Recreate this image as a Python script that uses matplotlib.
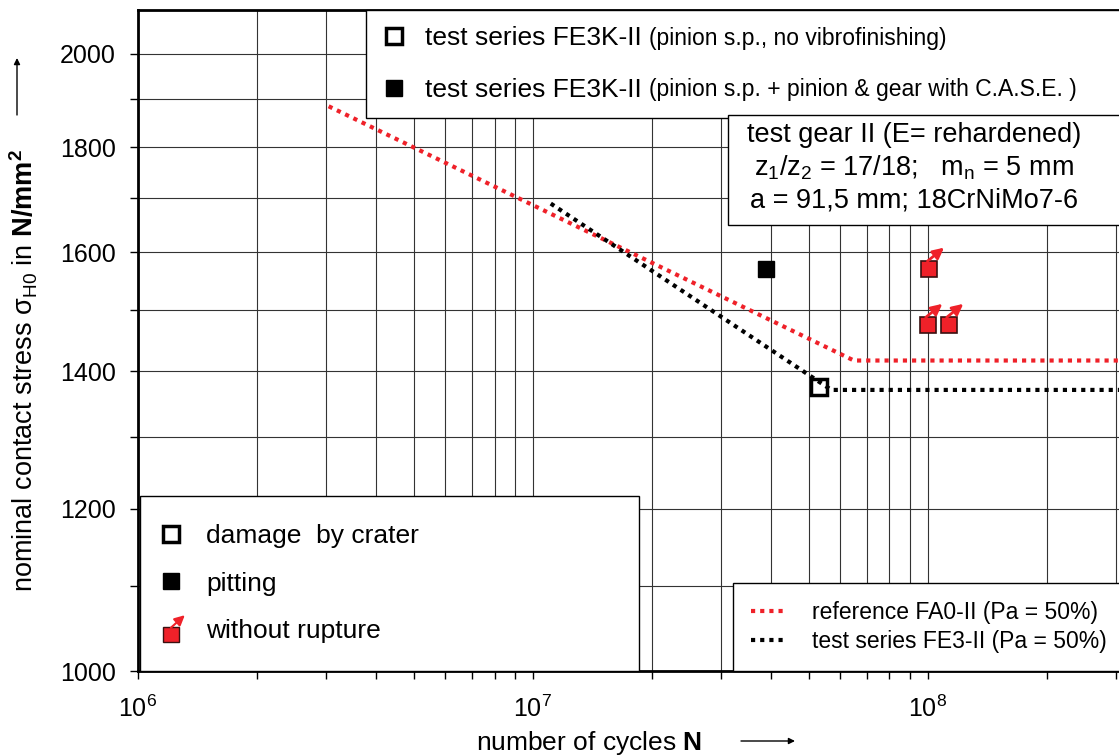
import matplotlib.pyplot as plt
from matplotlib.patches import Rectangle, FancyArrowPatch
from matplotlib.lines import Line2D
from matplotlib.legend_handler import HandlerBase
from matplotlib.ticker import FixedLocator, LogLocator, NullFormatter
from matplotlib.transforms import offset_copy

plt.rcParams['font.family'] = ['Liberation Sans', 'DejaVu Sans']
plt.rcParams['mathtext.fontset'] = 'custom'
plt.rcParams['mathtext.rm'] = 'Liberation Sans'
plt.rcParams['mathtext.it'] = 'Liberation Sans:italic'
plt.rcParams['mathtext.bf'] = 'Liberation Sans:bold'

RED = '#ef2129'
EDGE = '#3a1010'

# S-N lines (Pa = 50%)
ref_cycles = [3.04e6, 6.5e7, 3.3e8]
ref_stress = [1885, 1417, 1417]
fe3_cycles = [1.11e7, 5.7e7, 3.3e8]
fe3_stress = [1690, 1371, 1371]

# test points
crater_cycles = [5.3e7]
crater_stress = [1375]
pitting_cycles = [3.9e7]
pitting_stress = [1570]
runout_cycles = [1.01e8, 1.0e8, 1.13e8]
runout_stress = [1570, 1474, 1474]

y_major = [1000, 1200, 1400, 1600, 1800, 2000]
y_minor = [1100, 1300, 1500, 1700, 1900]

top_labels = ['test series FE3K-II', 'test series FE3K-II']
top_notes = ['(pinion s.p., no vibrofinishing)',
             '(pinion s.p. + pinion & gear with C.A.S.E. )']
info_lines = ['test gear II (E= rehardened)',
              r'z$_{\rm 1}$/z$_{\rm 2}$ = 17/18;   m$_{\rm n}$ = 5 mm',
              'a = 91,5 mm; 18CrNiMo7-6']


class RunoutHandler(HandlerBase):
    # red square with small arrow, for the legend
    def create_artists(self, legend, orig_handle, xdescent, ydescent,
                       width, height, fontsize, trans):
        cx = 0.5 * width - xdescent
        cy = 0.5 * height - ydescent - 4
        box = Rectangle((cx - 5.5, cy - 5.5), 11, 11, facecolor=RED,
                        edgecolor=EDGE, lw=1, transform=trans)
        arr = FancyArrowPatch((cx, cy + 5), (cx + 10, cy + 14),
                              arrowstyle='-|>,head_length=0.5,head_width=0.25',
                              mutation_scale=12, color=RED, lw=1.5,
                              shrinkA=0, shrinkB=0, transform=trans)
        return [box, arr]


fig = plt.figure(figsize=(11.19, 7.56), dpi=100)
ax = fig.add_axes([0.1233, 0.1124, 0.8767, 0.8743])
ax.set_xscale('log')
ax.set_yscale('log')
ax.set_xlim(1e6, 3.05e8)
ax.set_ylim(1000, 2100)

ax.xaxis.set_major_locator(LogLocator(base=10))
ax.xaxis.set_minor_locator(LogLocator(base=10, subs=range(2, 10)))
ax.xaxis.set_minor_formatter(NullFormatter())
ax.yaxis.set_major_locator(FixedLocator(y_major))
ax.yaxis.set_minor_locator(FixedLocator(y_minor))
ax.yaxis.set_major_formatter(plt.FixedFormatter([str(v) for v in y_major]))
ax.yaxis.set_minor_formatter(NullFormatter())

ax.grid(True, which='both', color='#333333', lw=0.8)
ax.set_axisbelow(True)
ax.tick_params(which='both', direction='out', length=6, width=1, labelsize=18)
ax.tick_params(axis='x', pad=12)
ax.tick_params(axis='y', pad=10)
for sp in ['left', 'top', 'bottom']:
    ax.spines[sp].set_linewidth(2)
ax.spines['right'].set_visible(False)

# lines
ax.plot(ref_cycles, ref_stress, color=RED, lw=3, ls=(0, (1, 1.2)), zorder=3)
ax.plot(fe3_cycles, fe3_stress, color='black', lw=3, ls=(0, (1, 1.2)), zorder=3)

# points
ax.plot(crater_cycles, crater_stress, 's', ms=12, mfc='none', mec='black',
        mew=2.5, zorder=4)
ax.plot(pitting_cycles, pitting_stress, 's', ms=11, mfc='black', mec='black',
        zorder=4)
ax.plot(runout_cycles, runout_stress, 's', ms=11, mfc=RED, mec=EDGE, mew=1.2,
        zorder=4)
tail = offset_copy(ax.transData, fig=fig, x=-1.4, y=5.8, units='points')
tip = offset_copy(ax.transData, fig=fig, x=10.5, y=15.5, units='points')
for n, s in zip(runout_cycles, runout_stress):
    ax.annotate('', xy=(n, s), xycoords=tip, xytext=(n, s), textcoords=tail,
                arrowprops=dict(arrowstyle='-|>,head_length=0.5,head_width=0.25',
                                color=RED, lw=2, shrinkA=0, shrinkB=0,
                                mutation_scale=13), zorder=5)

# top legend (test series)
h_open = Line2D([], [], marker='s', ls='none', ms=12, mfc='white', mec='black', mew=2.5)
h_full = Line2D([], [], marker='s', ls='none', ms=11, mfc='black', mec='black')
top_leg = ax.legend([h_open, h_full], top_labels, loc='upper left',
                    bbox_to_anchor=(0.2324, 0, 0.79, 1.0), mode='expand',
                    borderaxespad=0, fontsize=19, borderpad=0.62,
                    handlelength=0.88, handletextpad=0.73, labelspacing=1.05,
                    frameon=True, fancybox=False, edgecolor='black',
                    framealpha=1)
top_leg.get_frame().set_linewidth(1)
ax.add_artist(top_leg)
for t, note in zip(top_leg.get_texts(), top_notes):
    ax.annotate(note, xy=(1, 0), xycoords=t, xytext=(5, 4.2),
                textcoords='offset points', fontsize=16.5, va='baseline',
                ha='left', zorder=10)

# info box
ax.add_patch(Rectangle((0.6014, 0.6747), 0.42, 0.1664, transform=ax.transAxes,
                       facecolor='white', edgecolor='black', lw=1,
                       clip_on=False, zorder=6))
for yy, line in zip([0.811, 0.761, 0.7126], info_lines):
    ax.text(0.791, yy, line, transform=ax.transAxes, ha='center', va='center',
            fontsize=19.5, zorder=7)

# damage legend
h_run = object()
dmg_leg = ax.legend([h_open, h_full, h_run],
                    ['damage  by crater', 'pitting', 'without rupture'],
                    handler_map={h_run: RunoutHandler()},
                    loc='lower left', bbox_to_anchor=(0.002, 0, 0.509, 0.3),
                    mode='expand', borderaxespad=0, fontsize=19,
                    borderpad=1.05, handlelength=0.25, handletextpad=1.2,
                    labelspacing=0.9, fancybox=False, edgecolor='black',
                    framealpha=1)
dmg_leg.get_frame().set_linewidth(1)
ax.add_artist(dmg_leg)

# line legend
h_ref = Line2D([], [], color=RED, lw=3, ls=(0, (1, 1.2)))
h_fe3 = Line2D([], [], color='black', lw=3, ls=(0, (1, 1.2)))
line_leg = ax.legend([h_ref, h_fe3],
                     ['reference FA0-II (Pa = 50%)', 'test series FE3-II (Pa = 50%)'],
                     loc='lower left', bbox_to_anchor=(0.6065, 0),
                     borderaxespad=0, fontsize=16.5, borderpad=0.79,
                     handlelength=1.45, handletextpad=1.22, labelspacing=0.26,
                     fancybox=False, edgecolor='black', framealpha=1)
line_leg.get_frame().set_linewidth(1)

# axis labels
ax.set_xlabel(r'number of cycles $\mathbf{N}$', fontsize=19)
ax.xaxis.set_label_coords(0.46, -0.088)
ax.set_ylabel(r'nominal contact stress $\mathrm{\sigma}_{\mathrm{H0}}$ in $\mathbf{N/mm^2}$',
              fontsize=19.5)
ax.yaxis.set_label_coords(-0.10, 0.455)

# direction arrows next to the labels
ax.annotate('', xy=(17, 698), xycoords='figure pixels', xytext=(17, 641),
            arrowprops=dict(arrowstyle='-|>', lw=1, color='black',
                            mutation_scale=9, shrinkA=0, shrinkB=0))
ax.annotate('', xy=(795, 15), xycoords='figure pixels', xytext=(741, 15),
            arrowprops=dict(arrowstyle='-|>', lw=1, color='black',
                            mutation_scale=9, shrinkA=0, shrinkB=0))

fig.savefig('out.png', dpi=100)
